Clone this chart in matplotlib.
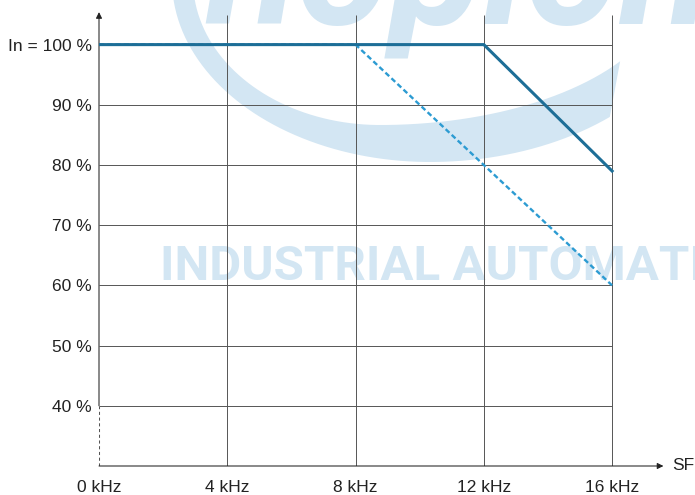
import numpy as np
import matplotlib
matplotlib.use("Agg")
import matplotlib.pyplot as plt
from matplotlib.patches import Polygon

# data
freq_ticks = [0, 4, 8, 12, 16]
freq_labels = ["0 kHz", "4 kHz", "8 kHz", "12 kHz", "16 kHz"]
pct_ticks = [40, 50, 60, 70, 80, 90, 100]
pct_labels = ["40 %", "50 %", "60 %", "70 %", "80 %", "90 %", "In = 100 %"]

solid_x = [0, 12, 16]
solid_y = [100, 100, 79]
dashed_x = [0, 8, 16]
dashed_y = [100, 100, 60]

W, H = 695, 495
fig = plt.figure(figsize=(W / 100, H / 100), dpi=100)
fig.patch.set_facecolor("white")

# watermark layer in pixel coordinates
bg = fig.add_axes([0, 0, 1, 1], zorder=0)
bg.set_xlim(0, W)
bg.set_ylim(H, 0)
bg.axis("off")
wm = "#d3e6f3"


def half_arc(cx, cy, a_left, a_right, b, t0, t1, n=80):
    t = np.radians(np.linspace(t0, t1, n))
    a = np.where(np.cos(t) < 0, a_left, a_right)
    return np.column_stack([cx + a * np.cos(t), cy + b * np.sin(t)])


outer = half_arc(430, -20, 258, 273, 182, 200, 48.8)
inner = half_arc(380, -20, 187, 290, 145, 34.1, 200)
bg.add_patch(Polygon(np.vstack([outer, inner]), closed=True, fc=wm, ec="none"))
bg.text(205, 23, "hoplons", fontsize=122, family="Roboto", weight="bold",
        style="italic", color=wm, va="baseline", ha="left")
bg.text(160, 280, "INDUSTRIAL AUTOMATION", fontsize=35.5, family="Roboto",
        weight="bold", color=wm, va="baseline", ha="left")

# main chart
ax = fig.add_axes([99 / W, 29 / H, 558 / W, 454.5 / H], zorder=1)
ax.patch.set_visible(False)
ax.set_xlim(0, 17.4)
ax.set_ylim(30, 105.5)
for s in ax.spines.values():
    s.set_visible(False)

grid_c = "#555555"
ax.hlines(pct_ticks, 0, 16, color=grid_c, lw=0.7, zorder=1)
ax.vlines(freq_ticks[1:], 30, 104.9, color=grid_c, lw=0.7, zorder=1)

# axes with arrows
ax.plot([0, 0], [30, 40], color=grid_c, lw=0.75, ls=(0, (3, 2.5)), zorder=1)
ax.annotate("", xy=(0, 105.4), xytext=(0, 40), annotation_clip=False,
            arrowprops=dict(arrowstyle="-|>", color="#222222", lw=0.75,
                            mutation_scale=9, shrinkA=0, shrinkB=0))
ax.annotate("", xy=(17.6, 30), xytext=(0, 30), annotation_clip=False,
            arrowprops=dict(arrowstyle="-|>", color="#222222", lw=0.75,
                            mutation_scale=9, shrinkA=0, shrinkB=0))
ax.text(17.88, 30, "SF", fontsize=12.5, family="Liberation Sans",
        color="#222222", va="center", ha="left", clip_on=False)

ax.plot(dashed_x, dashed_y, color="#2c9bd2", lw=1.7, dashes=(2.2, 1.3),
        zorder=3, solid_capstyle="butt")
ax.plot(solid_x, solid_y, color="#1d6e97", lw=2.2, zorder=4,
        solid_joinstyle="miter")

ax.set_xticks(freq_ticks)
ax.set_xticklabels(freq_labels)
ax.set_yticks(pct_ticks)
ax.set_yticklabels(pct_labels)
ax.tick_params(length=0, labelsize=12.5, labelcolor="#222222")
ax.tick_params(axis="x", pad=10)
ax.tick_params(axis="y", pad=5)
for lab in ax.get_xticklabels() + ax.get_yticklabels():
    lab.set_family("Liberation Sans")

fig.savefig("out.png", dpi=100, facecolor="white")
